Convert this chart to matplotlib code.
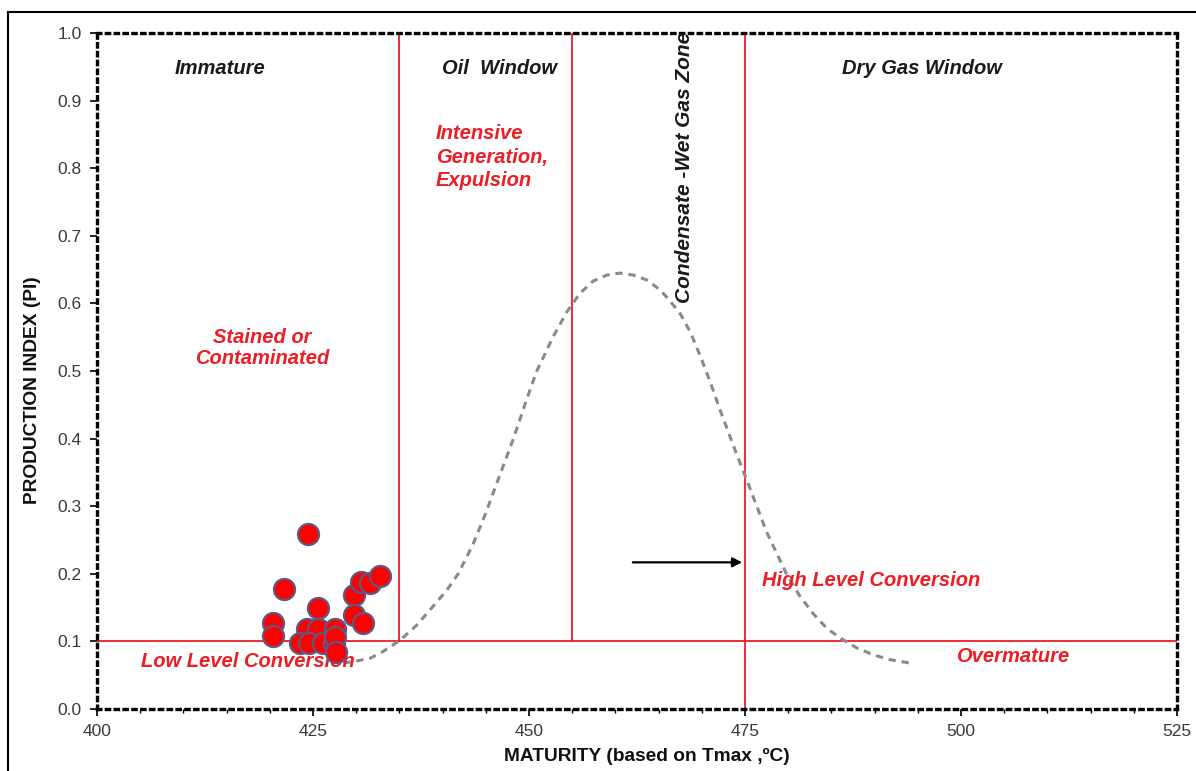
import matplotlib
matplotlib.use("Agg")
import matplotlib.pyplot as plt
from matplotlib.lines import Line2D
from matplotlib.ticker import MultipleLocator

plt.rcParams['font.family'] = ['Liberation Sans', 'DejaVu Sans']

# Sample data (Tmax, PI)
tmax = [424.45, 421.6, 420.4, 420.4, 425.6, 424.3, 425.6, 427.5, 423.5, 424.5,
        426.2, 427.4, 427.5, 427.7, 429.7, 429.7, 430.8, 430.6, 431.6, 432.8]
pi = [0.259, 0.178, 0.127, 0.108, 0.149, 0.119, 0.119, 0.119, 0.097, 0.097,
      0.097, 0.097, 0.107, 0.085, 0.169, 0.139, 0.127, 0.188, 0.186, 0.197]

# Generation envelope (dashed curve)
curve_x = [428.5, 430.0, 431.6, 433.1, 435.1, 437.0, 438.5, 440.5, 441.8, 443.5,
           445.0, 446.5, 448.2, 449.7, 450.9, 452.8, 454.4, 455.9, 457.4, 459.0,
           460.5, 462.1, 463.6, 465.2, 466.3, 467.5, 468.7, 469.8, 471.0, 472.1,
           474.0, 475.2, 477.5, 479.8, 481.3, 482.9, 484.5, 486.4, 488.0, 489.9,
           491.8, 494.1]
curve_y = [0.068, 0.071, 0.075, 0.085, 0.102, 0.124, 0.146, 0.176, 0.200, 0.243,
           0.290, 0.342, 0.400, 0.457, 0.500, 0.551, 0.588, 0.615, 0.633, 0.642,
           0.645, 0.642, 0.635, 0.620, 0.604, 0.585, 0.557, 0.523, 0.483, 0.443,
           0.378, 0.339, 0.262, 0.200, 0.168, 0.141, 0.119, 0.102, 0.090, 0.080,
           0.073, 0.068]

x_ticks = [400, 425, 450, 475, 500, 525]
y_ticks = [0.0, 0.1, 0.2, 0.3, 0.4, 0.5, 0.6, 0.7, 0.8, 0.9, 1.0]

fig = plt.figure(figsize=(11.96, 7.71), dpi=100)
ax = fig.add_axes([0.0811, 0.0804, 0.903, 0.8766])

red = '#ee1c24'
# Zone boundaries
ax.plot([400, 525], [0.1, 0.1], color=red, lw=1.3, zorder=2)
ax.plot([435, 435], [0.1, 1.0], color=red, lw=1.3, zorder=2)
ax.plot([455, 455], [0.1, 1.0], color=red, lw=1.3, zorder=2)
ax.plot([475, 475], [0.0, 1.0], color=red, lw=1.3, zorder=2)

ax.plot(curve_x, curve_y, color='#8a8a8a', lw=2.2, linestyle=(0, (2.4, 1.9)),
        solid_joinstyle='round', dash_joinstyle='round', zorder=2)

ax.scatter(tmax, pi, s=230, facecolor='#ff0000', edgecolor='#5a5a85', linewidth=1.6, zorder=5)

ax.annotate('', xy=(475, 0.217), xytext=(461.7, 0.217),
            arrowprops=dict(arrowstyle='-|>', color='black', lw=1.6, mutation_scale=14))

ax.set_xlim(400, 525)
ax.set_ylim(0, 1.0)
ax.set_xticks(x_ticks)
ax.set_yticks(y_ticks)
ax.set_yticklabels([f'{v:.1f}' for v in y_ticks])
ax.xaxis.set_minor_locator(MultipleLocator(5))
ax.tick_params(axis='both', which='major', length=5, width=1.2, labelsize=12.5,
               colors='black', labelcolor='#3a3a3a', pad=6)
ax.tick_params(axis='x', which='minor', length=3, width=1.0)

for s in ax.spines.values():
    s.set_linestyle(':')
    s.set_linewidth(2.4)
    s.set_color('black')

ax.set_xlabel('MATURITY (based on Tmax ,ºC)', fontsize=13.8, fontweight='bold', color='#111111')
ax.set_ylabel('PRODUCTION INDEX (PI)', fontsize=13.8, fontweight='bold', color='#111111')
ax.xaxis.set_label_coords(0.509, -0.057)
ax.yaxis.set_label_coords(-0.052, 0.472)

tk = dict(fontsize=14.5, style='italic', fontweight='bold', color='#1a1a1a')
ax.text(414.2, 0.948, 'Immature', ha='center', va='center', **tk)
ax.text(446.6, 0.948, 'Oil  Window', ha='center', va='center', **tk)
ax.text(495.5, 0.948, 'Dry Gas Window', ha='center', va='center', **tk)
ax.text(468.05, 0.802, 'Condensate -Wet Gas Zone', ha='center', va='center', rotation=90,
        fontsize=15, style='italic', fontweight='bold', color='#1a1a1a')

rk = dict(fontsize=14.5, style='italic', fontweight='bold', color=red)
ax.text(439.2, 0.866, 'Intensive\nGeneration,\nExpulsion', ha='left', va='top', linespacing=1.32, **rk)
ax.text(419.1, 0.534, 'Stained or\nContaminated', ha='center', va='center', linespacing=1.18, **rk)
ax.text(417.5, 0.07, 'Low Level Conversion', ha='center', va='center', **rk)
ax.text(477.0, 0.19, 'High Level Conversion', ha='left', va='center', **rk)
ax.text(506.0, 0.078, 'Overmature', ha='center', va='center', **rk)

# Outer frame
fig.add_artist(Line2D([8/1196, 1.0], [1 - 12/771, 1 - 12/771], transform=fig.transFigure, color='black', lw=1.5))
fig.add_artist(Line2D([8/1196, 8/1196], [0.0, 1 - 12/771], transform=fig.transFigure, color='black', lw=1.5))

fig.savefig('out.png', dpi=100)
